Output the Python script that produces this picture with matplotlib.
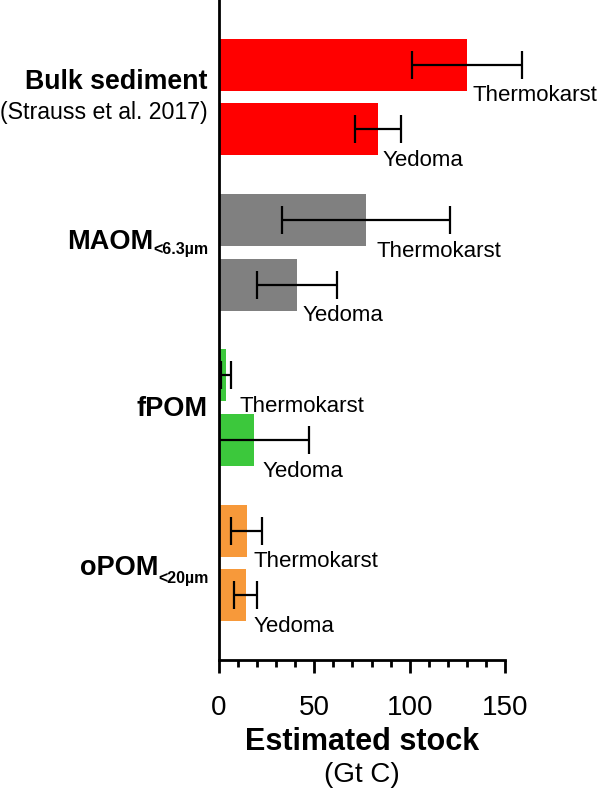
import matplotlib.pyplot as plt
import numpy as np

# values (Gt C)
groups = ["Bulk sediment", "MAOM", "fPOM", "oPOM"]
thermokarst = [130, 77, 3.7, 14.5]
thermokarst_err = [29, 44, 2.4, 8.3]
yedoma = [83.4, 41, 18.4, 14.0]
yedoma_err = [12, 21, 29, 6]
colors = ["#ff0000", "#808080", "#3cc83c", "#f7993a"]

# x position of the "Thermokarst" / "Yedoma" labels
label_x_thermo = [133, 82.5, 10.5, 18]
label_x_yedoma = [85.5, 44, 23, 18]

plt.rcParams["font.family"] = ["Liberation Sans", "DejaVu Sans"]

fig = plt.figure(figsize=(6, 7.91), dpi=100)
ax = fig.add_axes([0.365, 0.1656, 0.635, 0.8344])

gap = 2.4
height = 0.806
centers = np.arange(len(groups)) * gap
y_t = centers - 0.5
y_y = centers + 0.5

err_kw = dict(ecolor="black", elinewidth=1.6, capsize=10, capthick=1.6)
for i in range(len(groups)):
    ax.barh(y_t[i], thermokarst[i], height=height, color=colors[i],
            xerr=thermokarst_err[i], error_kw=err_kw)
    ax.barh(y_y[i], yedoma[i], height=height, color=colors[i],
            xerr=yedoma_err[i], error_kw=err_kw)
    ax.text(label_x_thermo[i], y_t[i] + 0.48, "Thermokarst", fontsize=16,
            va="center", ha="left")
    ax.text(label_x_yedoma[i], y_y[i] + 0.48, "Yedoma", fontsize=16,
            va="center", ha="left")

ax.set_xlim(0, 199.8)
ax.set_ylim(centers[-1] + 1.5, -1.5)

for s in ["top", "right"]:
    ax.spines[s].set_visible(False)
for s in ["left", "bottom"]:
    ax.spines[s].set_linewidth(2)
ax.spines["bottom"].set_bounds(0, 150)

ax.set_yticks([])
ax.set_xticks([0, 50, 100, 150])
ax.set_xticks(np.arange(0, 151, 10), minor=True)
ax.tick_params(axis="x", which="major", length=9, width=2, labelsize=20, pad=16)
ax.tick_params(axis="x", which="minor", length=5, width=2)

# group labels on the left
xl = -6.0
ax.text(xl, centers[0] - 0.24, "Bulk sediment", ha="right",
        va="center", fontsize=19.3, fontweight="bold")
ax.text(xl, centers[0] + 0.24, "(Strauss et al. 2017)",
        ha="right", va="center", fontsize=16.7)
ax.text(xl, centers[2] + 0.02, "fPOM", ha="right", va="center",
        fontsize=19.5, fontweight="bold")

renderer = fig.canvas.get_renderer()


def sub_label(main, sub, y_main, y_sub):
    t = ax.text(-5.5, y_sub, sub, ha="right", va="baseline",
                fontsize=11.5, fontweight="bold")
    bb = t.get_window_extent(renderer)
    x0 = ax.transData.inverted().transform((bb.x0, 0))[0]
    ax.text(x0, y_main, main, ha="right", va="baseline",
            fontsize=19.5, fontweight="bold")


sub_label("MAOM", "<6.3µm", centers[1] - 0.05, centers[1] + 0.03)
sub_label("oPOM", "<20µm", centers[3] + 0.19, centers[3] + 0.31)

ax.text(0.375, -0.124, "Estimated stock", transform=ax.transAxes, ha="center",
        va="center", fontsize=22, fontweight="bold")
ax.text(0.375, -0.174, "(Gt C)", transform=ax.transAxes, ha="center",
        va="center", fontsize=20)

fig.savefig("out.png", dpi=100)
